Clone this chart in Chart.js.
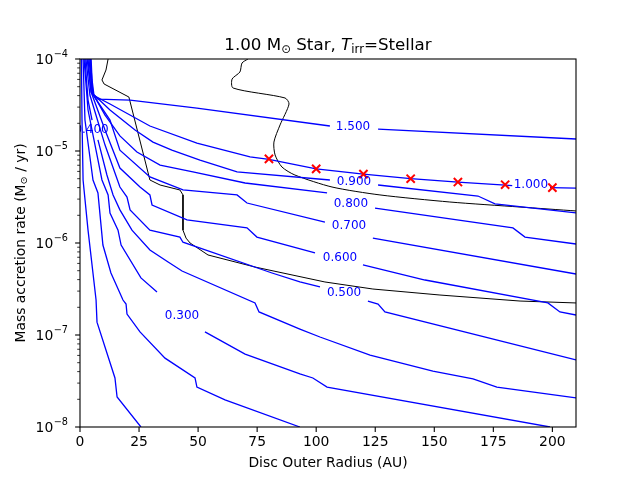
<!DOCTYPE html>
<html>
<head>
<meta charset="utf-8">
<script src="https://cdn.jsdelivr.net/npm/chart.js@4.4.0/dist/chart.umd.min.js"></script>
<style>
    body { margin: 0; background: #ffffff; }
</style>
</head>
<body>
<canvas id="chart_mdot" width="640" height="480"></canvas>
<script>
// contour lines: radius (AU) and accretion rate (Msun/yr), null = gap for the inline label
var r_010 = [0.6, 0.85, 1.3, 3.4, 6.8, 7.2, 14.8, 15.7, 25.8];
var mdot_010 = [1e-4, 2.17e-5, 4.84e-6, 1.38e-6, 2.4e-7, 1.38e-7, 3.41e-8, 2.12e-8, 1e-8];

var r_020 = [1.3, 2.1, 5.5, 7.6, 9.7, 13.1, 18.2, 19.5, 19.9, 25.4, 36.0, 48.7, 49.5, 61.4, 93.1];
var mdot_020 = [1e-4, 2.17e-5, 4.84e-6, 3.5e-6, 9.5e-7, 4.72e-7, 2.4e-7, 2.17e-7, 1.69e-7, 1.08e-7, 5.6e-8, 3.41e-8, 2.72e-8, 1.97e-8, 1e-8];

var r_030 = [1.7, 3.4, 9.3, 11.9, 12.7, 16.1, 17.4, 25.8, 32.6, null, 52.9, 69.9, 93.1, 98.6, 104.6, 199];
var mdot_030 = [1e-4, 2.79e-5, 4.84e-6, 3.33e-6, 2.12e-6, 1.38e-6, 9.51e-7, 4.17e-7, 2.93e-7, null, 1.08e-7, 6.21e-8, 3.77e-8, 3.41e-8, 2.72e-8, 1e-8];

var r_040 = [2.1, 3.4, 5.1, null, 7.6, 11.4, 14.0, 16.9, 22.0, 29.6, 37.3, 43.2, 74.1, 75.8, 93.1, 101.6, 122.8, 149.4, 166.4, 176.5, 210];
var mdot_040 = [1e-4, 3.58e-5, 2.17e-5, null, 1.32e-5, 5.48e-6, 3.33e-6, 2.29e-6, 1.38e-6, 8.39e-7, 6.21e-7, 4.96e-7, 2.23e-7, 1.78e-7, 1.16e-7, 9.51e-8, 6.06e-8, 4.06e-8, 3.33e-8, 2.72e-8, 2.07e-8];

var r_050 = [2.5, 4.2, 10.6, 16.9, 19.9, 21.2, 29.6, 42.3, 43.6, 81.3, 93.1, 101.6, null, 121.9, 126.2, 129.1, 210];
var mdot_050 = [1e-4, 4.06e-5, 1.16e-5, 4.06e-6, 3.16e-6, 2.29e-6, 1.38e-6, 1.16e-6, 1.02e-6, 4.72e-7, 3.77e-7, 3.33e-7, null, 2.34e-7, 2.17e-7, 1.78e-7, 5.35e-8];

var r_060 = [3.0, 4.7, 10.6, 16.9, 25.4, 29.6, 30.5, 45.3, 70.7, 74.9, 99.5, null, 119.8, 146.1, 198.1, 203.2, 210];
var mdot_060 = [1e-4, 4.38e-5, 1.69e-5, 6.53e-6, 4.06e-6, 3.33e-6, 2.59e-6, 1.78e-6, 1.46e-6, 1.16e-6, 7.79e-7, null, 5.77e-7, 3.96e-7, 2.23e-7, 1.78e-7, 1.65e-7];

var r_070 = [3.4, 4.7, 12.7, 16.9, 29.6, 43.6, 66.5, 70.7, 103.7, null, 124.0, 210];
var mdot_070 = [1e-4, 4.38e-5, 2.17e-5, 1.02e-5, 5.22e-6, 3.77e-6, 3.33e-6, 2.72e-6, 1.69e-6, null, 1.13e-6, 4.6e-7];

var r_080 = [3.8, 5.1, 10.6, 16.9, 24.1, 33.9, 47.8, 69.9, 104.6, null, 124.9, 183.3, 188.4, 210];
var mdot_080 = [1e-4, 4.38e-5, 2.46e-5, 1.46e-5, 9.75e-6, 7.04e-6, 5.92e-6, 4.49e-6, 3.5e-6, null, 2.4e-6, 1.46e-6, 1.16e-6, 9.75e-7];

var r_090 = [4.2, 5.1, 12.7, 23.3, 30.9, 38.9, 50.8, 66.5, 105.8, null, 126.2, 168.5, 175.7, 210];
var mdot_090 = [1e-4, 4.27e-5, 2.79e-5, 1.69e-5, 1.25e-5, 1.02e-5, 7.98e-6, 5.92e-6, 4.84e-6, null, 4.27e-6, 3.24e-6, 2.66e-6, 2.12e-6];

var r_100 = [4.4, 5.5, 12.7, 29.6, 49.5, 72.0, 80, 100, 120, 140, 160, 180, 183, null, 199, 210];
var mdot_100 = [1e-4, 4.06e-5, 3.24e-5, 1.87e-5, 1.22e-5, 8.61e-6, 8.1e-6, 6.4e-6, 5.6e-6, 5.0e-6, 4.6e-6, 4.25e-6, 4.2e-6, null, 4.0e-6, 3.95e-6];

var r_150 = [4.7, 5.1, 5.9, 7.6, 21.2, 49.5, 105.8, null, 126.2, 210];
var mdot_150 = [1e-4, 5.92e-5, 4.06e-5, 3.67e-5, 3.58e-5, 2.93e-5, 1.87e-5, null, 1.73e-5, 1.35e-5];

// the two black boundary curves
var r_bnd1 = [11.9, 11.0, 9.3, 10.2, 20.7, 29.6, 33.9, 42.3, 43.6, 43.6, 44.9, 46.6, 54.2, 74.1, 103.7, 124.0, 152.4, 186.3, 210];
var mdot_bnd1 = [1e-4, 7.59e-5, 5.92e-5, 5.35e-5, 3.86e-5, 4.84e-6, 4.27e-6, 3.77e-6, 3.33e-6, 1.38e-6, 1.13e-6, 1e-6, 7.41e-7, 5.48e-7, 3.77e-7, 3.16e-7, 2.72e-7, 2.34e-7, 2.23e-7];

var r_bnd2 = [71.1, 68.6, 67.7, 64.4, 64.8, 86.8, 88.5, 84.7, 82.1, 82.6, 85.5, 91.0, 106.7, 127.0, 156.6, 186.3, 210];
var mdot_bnd2 = [1e-4, 9.05e-5, 7.22e-5, 6.06e-5, 4.84e-5, 3.77e-5, 3.24e-5, 1.92e-5, 1.25e-5, 9.05e-6, 6.7e-6, 5.48e-6, 4.06e-6, 3.33e-6, 2.79e-6, 2.46e-6, 2.23e-6];

// red crosses
var r_obs = [80, 100, 120, 140, 160, 180, 200];
var mdot_obs = [8.2e-6, 6.4e-6, 5.6e-6, 5.0e-6, 4.6e-6, 4.3e-6, 4.0e-6];

// inline contour labels
var label_text = ['0.300', '0.400', '0.500', '0.600', '0.700', '0.800', '0.900', '1.000', '1.500'];
var label_r = [43.2, 4.9, 111.8, 110.1, 113.9, 114.7, 116.0, 190.9, 115.6];
var label_mdot = [1.61e-7, 1.69e-5, 2.86e-7, 6.87e-7, 1.53e-6, 2.66e-6, 4.6e-6, 4.27e-6, 1.82e-5];

// axes
var x_ticks = [0, 25, 50, 75, 100, 125, 150, 175, 200];
var y_ticks = [1e-8, 1e-7, 1e-6, 1e-5, 1e-4];
var y_tick_exp = ['\u22128', '\u22127', '\u22126', '\u22125', '\u22124'];

var FONT = '"DejaVu Sans", sans-serif';

function toPoints(xs, ys) {
    return xs.map(function (x, i) { return {x: x, y: ys[i]}; });
}

var contours = [
    [r_010, mdot_010], [r_020, mdot_020], [r_030, mdot_030], [r_040, mdot_040],
    [r_050, mdot_050], [r_060, mdot_060], [r_070, mdot_070], [r_080, mdot_080],
    [r_090, mdot_090], [r_100, mdot_100], [r_150, mdot_150]
];

var datasets = [{
    data: toPoints(r_obs, mdot_obs),
    showLine: false,
    pointStyle: 'crossRot',
    pointRadius: 5.8,
    pointBorderWidth: 2,
    borderColor: '#ff0000',
    backgroundColor: '#ff0000',
    order: -1
}];

contours.forEach(function (c) {
    datasets.push({
        data: toPoints(c[0], c[1]),
        showLine: true,
        borderColor: '#0000ff',
        borderWidth: 1.3,
        pointRadius: 0,
        tension: 0,
        spanGaps: false
    });
});

datasets.push({
    data: toPoints(r_bnd1, mdot_bnd1),
    showLine: true, borderColor: '#000000', borderWidth: 1, pointRadius: 0, tension: 0
});
datasets.push({
    data: toPoints(r_bnd2, mdot_bnd2),
    showLine: true, borderColor: '#000000', borderWidth: 1, pointRadius: 0, tension: 0.25
});

// draw a row of text pieces (normal / sub / italic) centred on cx
function drawRuns(ctx, runs, cx, y) {
    var total = 0;
    runs.forEach(function (r) { ctx.font = r.font; total += ctx.measureText(r.text).width; });
    var x = cx - total / 2;
    runs.forEach(function (r) {
        ctx.font = r.font;
        ctx.fillText(r.text, x, y + (r.dy || 0));
        x += ctx.measureText(r.text).width;
    });
}

var decorPlugin = {
    id: 'decor',
    afterDatasetsDraw: function (chart) {
        var ctx = chart.ctx, a = chart.chartArea;
        var xs = chart.scales.x, ys = chart.scales.y;
        ctx.save();
        ctx.beginPath();
        ctx.rect(a.left, a.top, a.right - a.left, a.bottom - a.top);
        ctx.clip();
        ctx.fillStyle = '#0000ff';
        ctx.font = '12px ' + FONT;
        ctx.textAlign = 'center';
        ctx.textBaseline = 'middle';
        for (var i = 0; i < label_text.length; ++i) {
            ctx.fillText(label_text[i], xs.getPixelForValue(label_r[i]), ys.getPixelForValue(label_mdot[i]));
        }
        ctx.restore();
    },
    afterDraw: function (chart) {
        var ctx = chart.ctx, a = chart.chartArea;
        var xs = chart.scales.x, ys = chart.scales.y;
        ctx.save();
        ctx.strokeStyle = '#000000';
        ctx.fillStyle = '#000000';
        ctx.lineWidth = 1.1;
        ctx.strokeRect(a.left, a.top, a.right - a.left, a.bottom - a.top);

        // x ticks
        ctx.font = '13.9px ' + FONT;
        ctx.textAlign = 'center';
        ctx.textBaseline = 'middle';
        x_ticks.forEach(function (t) {
            var px = xs.getPixelForValue(t);
            ctx.beginPath();
            ctx.moveTo(px, a.bottom);
            ctx.lineTo(px, a.bottom + 4.9);
            ctx.stroke();
            ctx.fillText(String(t), px, a.bottom + 15);
        });

        // y ticks, major and minor
        for (var e = -8; e < -4; ++e) {
            for (var k = 2; k < 10; ++k) {
                var py = ys.getPixelForValue(k * Math.pow(10, e));
                ctx.lineWidth = 0.8;
                ctx.beginPath();
                ctx.moveTo(a.left, py);
                ctx.lineTo(a.left - 2.8, py);
                ctx.stroke();
            }
        }
        ctx.lineWidth = 1.1;
        y_ticks.forEach(function (t, i) {
            var py = ys.getPixelForValue(t);
            ctx.beginPath();
            ctx.moveTo(a.left, py);
            ctx.lineTo(a.left - 4.9, py);
            ctx.stroke();
            ctx.textAlign = 'right';
            ctx.textBaseline = 'middle';
            ctx.font = '9.7px ' + FONT;
            var supW = ctx.measureText(y_tick_exp[i]).width;
            ctx.fillText(y_tick_exp[i], a.left - 12, py - 5);
            ctx.font = '13.9px ' + FONT;
            ctx.fillText('10', a.left - 12 - supW - 0.5, py + 1);
        });

        // axis titles
        ctx.textAlign = 'left';
        ctx.textBaseline = 'middle';
        ctx.font = '13.9px ' + FONT;
        var xl = 'Disc Outer Radius (AU)';
        ctx.fillText(xl, (a.left + a.right) / 2 - ctx.measureText(xl).width / 2, 463);

        ctx.save();
        ctx.translate(21, (a.top + a.bottom) / 2);
        ctx.rotate(-Math.PI / 2);
        drawRuns(ctx, [
            {text: 'Mass accretion rate (M', font: '13.9px ' + FONT},
            {text: '\u2299', font: '9.7px ' + FONT, dy: 3},
            {text: ' / yr)', font: '13.9px ' + FONT}
        ], 0, 0);
        ctx.restore();

        // title
        ctx.textBaseline = 'alphabetic';
        drawRuns(ctx, [
            {text: '1.00 M', font: '16.7px ' + FONT},
            {text: '\u2299', font: '11.7px ' + FONT, dy: 3},
            {text: ' Star, ', font: '16.7px ' + FONT},
            {text: 'T', font: 'italic 16.7px ' + FONT},
            {text: 'irr', font: '11.7px ' + FONT, dy: 3},
            {text: '=Stellar', font: '16.7px ' + FONT}
        ], (a.left + a.right) / 2, 50);
        ctx.restore();
    }
};

var mdot_chart_ctx = document.getElementById('chart_mdot').getContext('2d');
var mdot_chart = new Chart(mdot_chart_ctx, {
    type: 'scatter',
    data: {datasets: datasets},
    options: {
        responsive: false,
        animation: false,
        devicePixelRatio: 1,
        layout: {padding: {left: 80, top: 59, right: 64, bottom: 53}},
        scales: {
            x: {type: 'linear', min: 0, max: 210, display: false},
            y: {type: 'logarithmic', min: 1e-8, max: 1e-4, display: false}
        },
        plugins: {
            legend: {display: false},
            tooltip: {enabled: false}
        }
    },
    plugins: [decorPlugin]
});
</script>
</body>
</html>
